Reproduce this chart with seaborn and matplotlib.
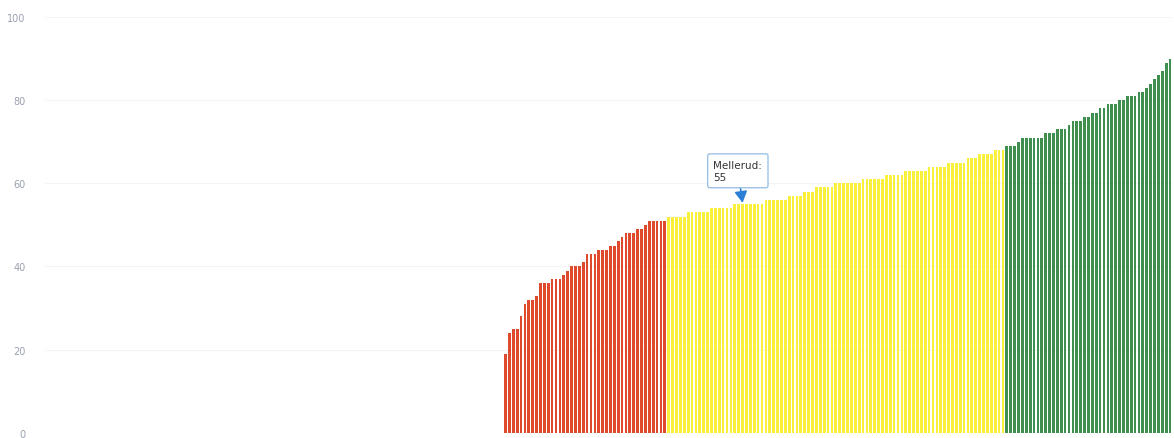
import numpy as np
import pandas as pd
import seaborn as sns
import matplotlib
matplotlib.use("Agg")
import matplotlib.pyplot as plt

# Values (sorted municipality values, %)
zero_values = [0] * 118
red_values = [19, 24, 25, 25, 28, 31, 32, 32, 33, 36, 36, 36, 37, 37, 37, 38,
              39, 40, 40, 40, 41, 43, 43, 43, 44, 44, 44, 45, 45, 46, 47, 48,
              48, 48, 49, 49, 50, 51, 51, 51, 51, 51]
yellow_values = [52, 52, 52, 52, 52, 53, 53, 53, 53, 53, 53, 54, 54, 54, 54, 54, 54, 55, 55, 55,
                 55, 55, 55, 55, 55, 56, 56, 56, 56, 56, 56, 57, 57, 57, 57,
                 58, 58, 58, 59, 59, 59, 59, 59, 60, 60, 60, 60, 60, 60, 60,
                 61, 61, 61, 61, 61, 61, 62, 62, 62, 62, 62, 63, 63,
                 63, 63, 63, 63, 64, 64, 64, 64, 64, 65, 65, 65,
                 65, 65, 66, 66, 66, 67, 67, 67, 67, 68, 68, 68]
green_values = [69, 69, 69, 70, 71, 71, 71, 71, 71, 71, 72, 72, 72, 73, 73, 73,
                74, 75, 75, 75, 76, 76, 77, 77, 78, 78, 79, 79, 79, 80, 80, 81,
                81, 81, 82, 82, 83, 84, 85, 86, 87, 89, 90]
y_ticks = [0, 20, 40, 60, 80, 100]
highlight_name = "Mellerud"
highlight_value = 55
highlight_index = 179

groups = (["none"] * len(zero_values) + ["red"] * len(red_values)
          + ["yellow"] * len(yellow_values) + ["green"] * len(green_values))
values = zero_values + red_values + yellow_values + green_values
df = pd.DataFrame({"idx": np.arange(len(values)), "value": values, "group": groups})

palette = {"none": "#ffffff", "red": "#df4a2c", "yellow": "#f8f03a", "green": "#3f8f50"}

sns.set_style("white")
fig = plt.figure(figsize=(11.74, 4.39), dpi=100)
ax = fig.add_axes([0.0383, 0.012, 0.960, 0.947])

sns.barplot(data=df, x="idx", y="value", hue="group", palette=palette,
            saturation=1, width=0.7, linewidth=0, legend=False, ax=ax, dodge=False)

ax.set_ylim(0, 100)
ax.set_yticks(y_ticks)
ax.set_yticklabels([str(t) for t in y_ticks], fontsize=7, color="#9aa0b0")
ax.tick_params(axis="y", length=0, pad=14)
ax.set_xticks([])
ax.set_xlabel("")
ax.set_ylabel("")
ax.yaxis.grid(True, color="#f4f4f4", linewidth=0.8)
ax.set_axisbelow(True)
for s in ax.spines.values():
    s.set_visible(False)

ax.annotate(f"{highlight_name}:\n{highlight_value}",
            xy=(highlight_index, highlight_value + 0.3), xycoords="data",
            xytext=(-21, 15), textcoords="offset points",
            ha="left", va="bottom", fontsize=7.5, color="#333333",
            multialignment="left", linespacing=1.3,
            bbox=dict(boxstyle="round,pad=0.55,rounding_size=0.2", fc="white",
                      ec="#9cc3e6", lw=1),
            arrowprops=dict(arrowstyle="-|>,head_length=0.9,head_width=0.5",
                            color="#2b7fd6", lw=1.2, shrinkA=0, shrinkB=0))

fig.savefig("out.png", dpi=100)
